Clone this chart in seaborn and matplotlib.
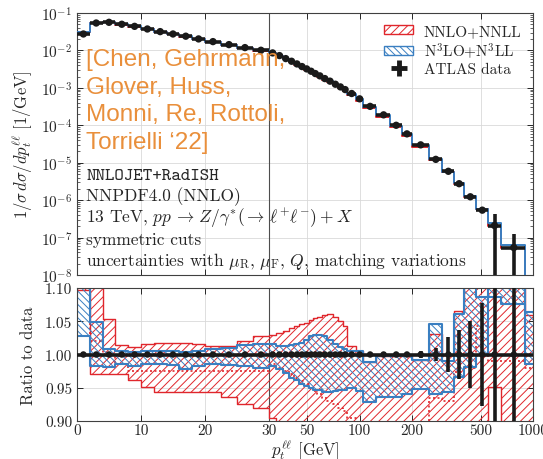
import numpy as np
import matplotlib
matplotlib.use("Agg")
import matplotlib.pyplot as plt
import seaborn as sns
from matplotlib.patches import Patch
from matplotlib.lines import Line2D
from matplotlib.ticker import FixedLocator, NullLocator, LogLocator

sns.set_style("ticks")
plt.rcParams.update({
    "font.family": "serif",
    "font.serif": ["cmr10"],
    "mathtext.fontset": "cm",
    "axes.formatter.use_mathtext": True,
    "hatch.linewidth": 0.7,
    "axes.unicode_minus": True,
})

# ---------------- data ----------------
edges = [0, 2, 4, 6, 8, 10, 12, 14, 16, 18, 20, 22.5, 25, 27.5, 30, 33, 36, 39, 42, 45,
         48, 51, 54, 57, 61, 65, 70, 75, 80, 85, 95, 105, 125, 150, 175, 200, 250, 300,
         350, 400, 470, 550, 650, 900, 2500]

atlas = [0.0275, 0.054, 0.0564, 0.050, 0.044, 0.0374, 0.0318, 0.0275, 0.024, 0.0203,
         0.0172, 0.0143, 0.0119, 0.0101,
         8.58e-3, 7.28e-3, 6.05e-3, 5.14e-3, 4.36e-3, 3.71e-3, 3.21e-3, 2.78e-3, 2.41e-3,
         2.09e-3, 1.77e-3, 1.51e-3, 1.25e-3, 1.06e-3, 9.0e-4, 7.06e-4, 5.09e-4,
         3.2e-4, 1.9e-4, 1.0e-4, 5.9e-5, 3.0e-5, 1.23e-5, 5.9e-6, 2.75e-6, 1.23e-6,
         5.4e-7, 2.1e-7, 5.4e-8, 3.0e-9]

atlas_relerr = [0.004] * 35 + [0.006, 0.010, 0.026, 0.037, 0.050, 0.078, 1.0, 1.25, 1.5]

nnlo_lo = [1.097, 0.970, 0.971, 0.971, 0.961, 0.951, 0.944, 0.944, 0.944, 0.944,
           0.944, 0.936, 0.926, 0.920, 0.905, 0.893, 0.885, 0.880, 0.875, 0.870,
           0.865, 0.860, 0.855, 0.850, 0.850, 0.850, 0.850, 0.850, 0.850, 0.850,
           0.850, 0.850, 0.850, 0.850, 0.850, 0.850, 0.850, 0.850, 0.850, 0.850,
           0.850, 0.951, 0.850, 0.850]
nnlo_hi = [1.300, 1.150, 1.053, 1.014, 1.012, 1.016, 1.017, 1.018, 1.018, 1.016,
           1.013, 1.013, 1.021, 1.028, 1.030, 1.033, 1.036, 1.040, 1.043, 1.046,
           1.048, 1.052, 1.055, 1.057, 1.060, 1.061, 1.057, 1.050, 1.043, 1.013,
           1.006, 0.988, 0.998, 0.998, 1.000, 0.991, 1.031, 1.000, 1.066, 1.200,
           1.200, 1.200, 1.200, 1.060]
nnlo_mid = [1.150, 1.020, 1.000, 0.985, 0.975, 0.975, 0.975, 0.975, 0.975, 0.975,
            0.975, 0.975, 0.975, 0.975, 0.985, 0.980, 0.975, 0.970, 0.965, 0.960,
            0.955, 0.950, 0.945, 0.940, 0.935, 0.930, 0.925, 0.920, 0.915, 0.905,
            0.880, 0.880, 0.880, 0.880, 0.880, 0.880, 0.935, 0.930, 0.974, 0.980,
            1.043, 0.990, 0.990, 0.980]

n3lo_lo = [1.028, 0.982, 0.981, 0.985, 0.983, 0.985, 0.985, 0.984, 0.978, 0.982,
           0.985, 0.984, 0.982, 0.980, 0.983, 0.978, 0.972, 0.965, 0.961, 0.956,
           0.952, 0.950, 0.947, 0.946, 0.944, 0.944, 0.945, 0.946, 0.947, 0.950,
           0.945, 0.928, 0.936, 0.936, 0.940, 0.948, 0.941, 0.944, 0.966, 0.981,
           1.000, 1.087, 1.076, 0.986]
n3lo_hi = [1.200, 1.049, 1.008, 1.005, 1.004, 1.005, 1.006, 1.006, 1.004, 1.006,
           1.008, 1.010, 1.015, 1.016, 1.016, 1.013, 1.013, 1.014, 1.016, 1.018,
           1.022, 1.028, 1.030, 1.030, 1.028, 1.022, 1.016, 1.012, 1.008, 1.006,
           1.006, 0.988, 0.998, 0.998, 1.000, 0.991, 1.046, 0.990, 1.061, 1.150,
           1.087, 1.200, 1.200, 1.064]

xticks = [0, 10, 20, 30, 50, 100, 200, 500, 1000]
ratio_ticks = [0.90, 0.95, 1.00, 1.05, 1.10]

# ---------------- helpers ----------------
RED = "#e0262c"
BLUE = "#3a7fc1"
K = 27.1


def fwd(x):
    x = np.asarray(x, dtype=float)
    with np.errstate(divide="ignore", invalid="ignore"):
        lg = 30 + K * np.log10(np.clip(x, 1e-12, None) / 30.0)
    return np.where(x <= 30, x, lg)


def inv(u):
    u = np.asarray(u, dtype=float)
    with np.errstate(over="ignore"):
        return np.where(u <= 30, u, 30.0 * 10 ** ((u - 30) / K))


e = np.array(edges, dtype=float)
cen = 0.5 * (e[:-1] + e[1:])
xl = cen - e[:-1]
xh = e[1:] - cen
d = np.array(atlas)
rel = np.array(atlas_relerr)


def stepvals(v):
    v = np.asarray(v, dtype=float)
    return np.append(v, v[-1])


fig = plt.figure(figsize=(5.43, 4.60), dpi=100)
ax1 = fig.add_axes([77 / 543, 1 - 276 / 460, 456 / 543, 262 / 460])
ax2 = fig.add_axes([77 / 543, 1 - 422 / 460, 456 / 543, 133 / 460])

for ax in (ax1, ax2):
    ax.set_xscale("function", functions=(fwd, inv))
    ax.set_xlim(0, 1000)
    ax.xaxis.set_major_locator(FixedLocator(xticks))
    ax.xaxis.set_minor_locator(NullLocator())
    ax.grid(True, which="major", color="0.85", lw=0.6)
    ax.set_axisbelow(True)
    ax.axvline(30, color="0.3", lw=0.8, zorder=1.5)
    ax.tick_params(which="both", direction="in", top=True, right=True, labelsize=11)
    ax.tick_params(which="major", length=4.5, width=0.7)
    ax.tick_params(which="minor", length=2.5, width=0.5)
    for s in ax.spines.values():
        s.set_linewidth(0.8)
        s.set_color("0.25")

# ---------------- top panel ----------------
ax1.set_yscale("log")
ax1.set_ylim(1e-8, 1e-1)
ax1.yaxis.set_minor_locator(LogLocator(base=10, subs=np.arange(2, 10), numticks=20))
ax1.tick_params(labelbottom=False)

ax1.step(e, stepvals(d * np.array(nnlo_mid)), where="post", color=RED, lw=1.4, zorder=3)
ax1.step(e, stepvals(d * 0.5 * (np.array(n3lo_lo) + np.array(n3lo_hi))), where="post",
         color=BLUE, lw=1.4, zorder=3.2)
low = np.minimum(rel * d, 0.999 * d)
ax1.errorbar(cen, d, xerr=[xl, xh], yerr=[low, rel * d], fmt="none", ecolor="#1a1a1a",
             elinewidth=2.6, capsize=0, zorder=4)
sns.scatterplot(x=cen, y=d, ax=ax1, color="#1a1a1a", s=28, marker="o", edgecolor="none",
                zorder=5, legend=False)
ax1.set_ylabel(r"$1/\sigma\, d\sigma/dp_t^{\ell\ell}$ [1/GeV]", fontsize=12, labelpad=4)

handles = [Patch(facecolor="white", edgecolor=RED, hatch="////", lw=1.0),
           Patch(facecolor="white", edgecolor=BLUE, hatch="\\\\\\\\\\", lw=1.0),
           Line2D([], [], color="#1a1a1a", marker="+", ms=11, mew=3.5, ls="none")]
ax1.legend(handles, ["NNLO+NNLL", r"N$^3$LO+N$^3$LL", "ATLAS data"], loc="upper right",
           frameon=False, fontsize=11, handlelength=1.9, handleheight=0.55,
           handletextpad=0.7, labelspacing=0.15, borderaxespad=0.35)

ax1.text(0.02, 0.866, "[Chen, Gehrmann,\nGlover, Huss,\nMonni, Re, Rottoli,\nTorrielli \u201822]",
         transform=ax1.transAxes, ha="left", va="top", fontsize=17.5,
         family="Liberation Sans", color="#e98f3b", linespacing=1.33, zorder=6)

ax1.text(0.02, 0.378, "NNLOJET+RadISH", transform=ax1.transAxes, family="cmtt10",
         fontsize=13, va="center")
ax1.text(0.02, 0.302, "NNPDF4.0 (NNLO)", transform=ax1.transAxes, fontsize=12.5, va="center")
ax1.text(0.02, 0.221, r"13 TeV, $pp\,\to\,Z/\gamma^{*}(\to\,\ell^{+}\ell^{-})+X$",
         transform=ax1.transAxes, fontsize=12.5, va="center")
ax1.text(0.02, 0.137, "symmetric cuts", transform=ax1.transAxes, fontsize=12.5, va="center")
ax1.text(0.02, 0.057, r"uncertainties with $\mu_{\rm R}$, $\mu_{\rm F}$, $Q$, matching variations",
         transform=ax1.transAxes, fontsize=12.5, va="center")

# ---------------- ratio panel ----------------
ax2.set_ylim(0.90, 1.10)
ax2.yaxis.set_major_locator(FixedLocator(ratio_ticks))
ax2.set_yticklabels([f"{t:.2f}" for t in ratio_ticks])
ax2.set_xticklabels([str(t) for t in xticks])
ax2.tick_params(axis="x", pad=1.5)

ax2.fill_between(e, stepvals(nnlo_lo), stepvals(nnlo_hi), step="post", facecolor="none",
                 edgecolor=RED, hatch="////", lw=1.0, zorder=2)
ax2.step(e, stepvals(nnlo_mid), where="post", color=RED, ls=(0, (1.2, 1.5)), lw=1.2, zorder=2.1)
ax2.fill_between(e, stepvals(n3lo_lo), stepvals(n3lo_hi), step="post", facecolor="none",
                 edgecolor=BLUE, hatch="\\\\\\\\\\", lw=1.5, zorder=2.5)

ones = np.ones_like(cen)
ax2.errorbar(cen, ones, xerr=[xl, xh], yerr=rel, fmt="none", ecolor="#1a1a1a",
             elinewidth=2.6, capsize=0, zorder=4)
sns.scatterplot(x=cen, y=ones, ax=ax2, color="#1a1a1a", s=22, marker="o", edgecolor="none",
                zorder=5, legend=False)
ax2.set_ylabel("Ratio to data", fontsize=12, labelpad=6)
ax2.set_xlabel(r"$p_t^{\ell\ell}$ [GeV]", fontsize=12, labelpad=-0.5)

fig.align_ylabels([ax1, ax2])
fig.savefig("out.png", dpi=100)
